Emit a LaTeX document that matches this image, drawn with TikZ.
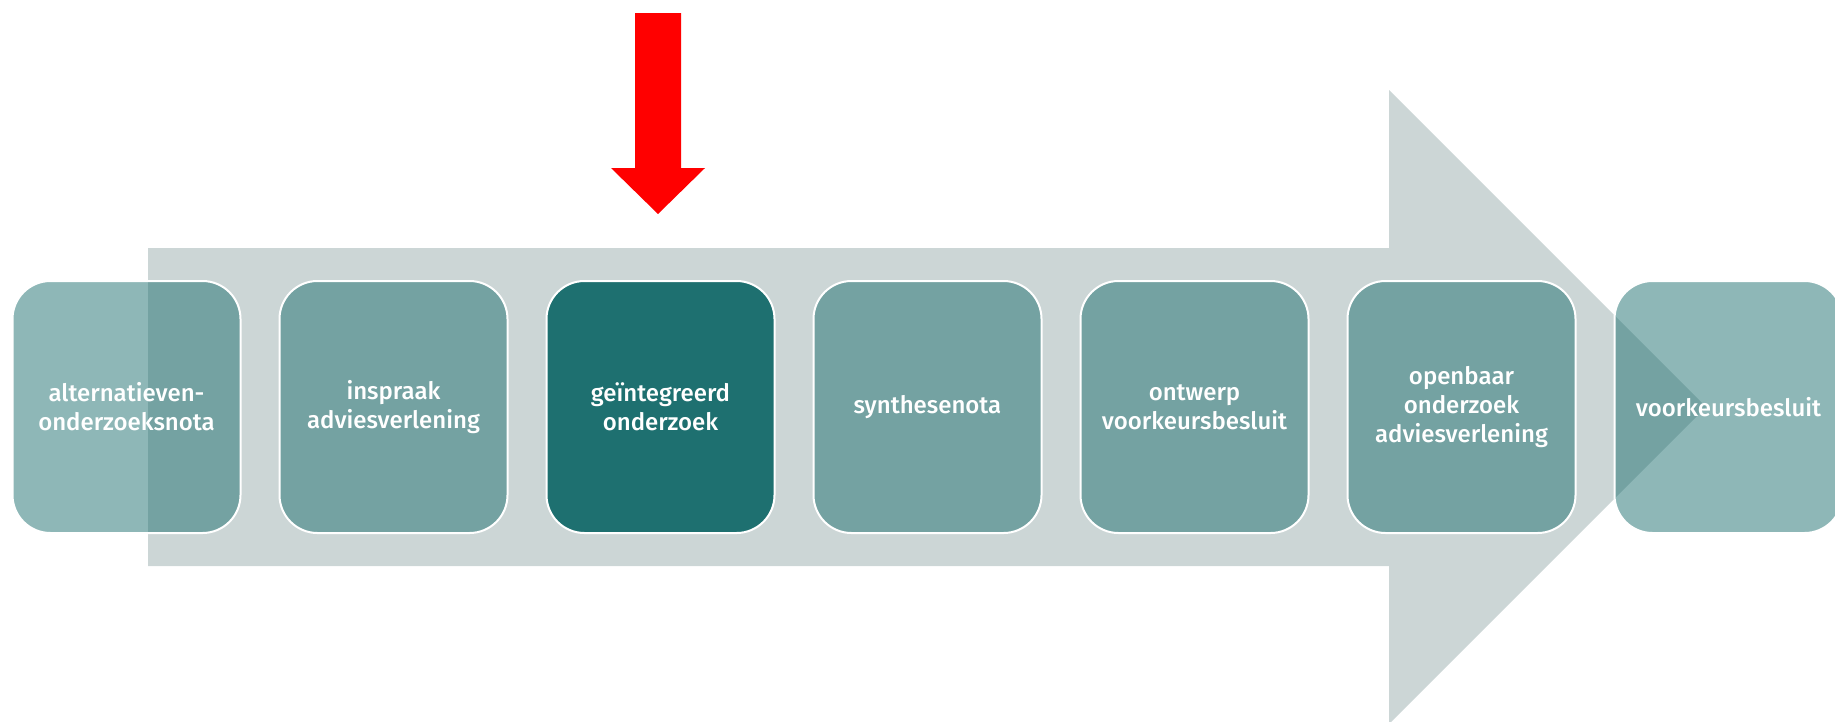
\documentclass[tikz,border=0pt]{standalone}
\usepackage{fontspec}
\setmainfont{Fira Sans}[UprightFont=* Medium]
\definecolor{shaft}{HTML}{CCD6D6}
\definecolor{teal}{HTML}{1E7070}
\definecolor{arrowred}{HTML}{FF0000}
\begin{document}
\begin{tikzpicture}[x=1pt,y=-1pt,
  stepbox/.style={draw=white, line width=2pt, fill=teal, fill opacity=0.5, draw opacity=1, text opacity=1,
    rounded corners=38pt, minimum width=228pt, minimum height=252pt, inner sep=4pt,
    text=white, align=center, font=\fontsize{24}{29}\selectfont},
  activebox/.style={stepbox, fill opacity=1}
]
\useasboundingbox (0,0) rectangle (1835,721);
% big process arrow
\fill[shaft] (148,248) -- (1389,248) -- (1389,90) -- (1706,407) -- (1389,724) -- (1389,566) -- (148,566) -- cycle;
% red marker arrow
\fill[arrowred] (635,13) -- (681,13) -- (681,168) -- (705,168) -- (658,214) -- (611,168) -- (635,168) -- cycle;
% steps
\node[stepbox]   (b1) at (126.5,407) {alternatieven-\\onderzoeksnota};
\node[stepbox]   (b2) at (393.5,407) {inspraak\\adviesverlening};
\node[activebox] (b3) at (660.5,407) {geïntegreerd\\onderzoek};
\node[stepbox]   (b4) at (927.5,407) {synthesenota};
\node[stepbox]   (b5) at (1194.5,407) {ontwerp\\voorkeursbesluit};
\node[stepbox]   (b6) at (1461.5,407) {openbaar\\onderzoek\\adviesverlening};
\node[stepbox]   (b7) at (1728.5,407) {voorkeursbesluit};
\end{tikzpicture}
\end{document}
